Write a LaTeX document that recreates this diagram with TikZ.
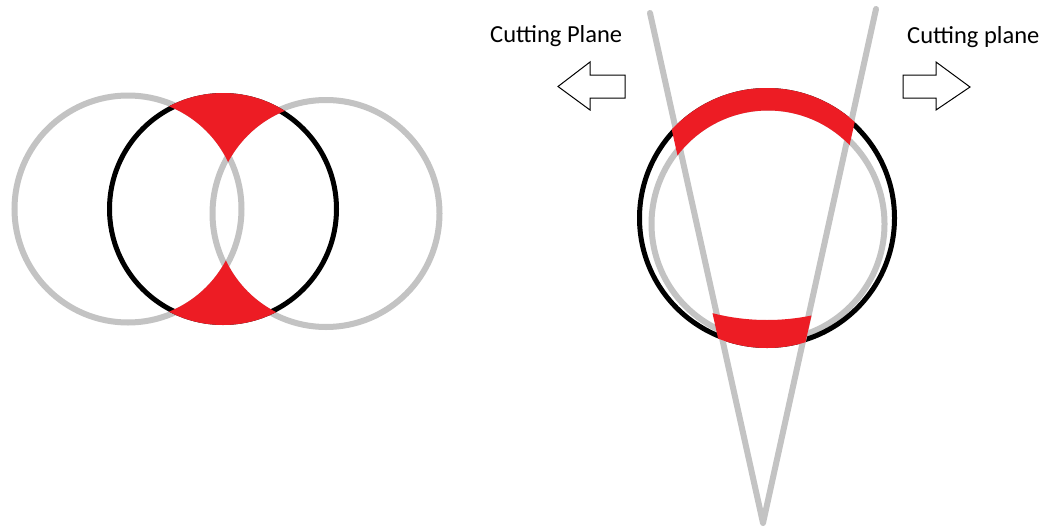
\documentclass[tikz,border=0pt]{standalone}
\usepackage{fontspec}
\setmainfont{Carlito}
\definecolor{cgrey}{HTML}{C3C3C3}
\definecolor{cred}{HTML}{ED1C24}
\begin{document}
\begin{tikzpicture}[x=1pt,y=-1pt,
  greyline/.style={draw=cgrey,line width=6pt},
  blackline/.style={draw=black,line width=5pt},
  hollowarrow/.style={draw=black,fill=white,line width=1pt,line join=miter},
  cutlabel/.style={inner sep=0pt,anchor=base west,text=black,font=\fontsize{24.5}{28}\selectfont}]
\useasboundingbox (0,0) rectangle (1056,530);
\fill[white] (0,0) rectangle (1056,530);

% ---------- left figure ----------
\coordinate (gl) at (128,209);
\coordinate (gr) at (326,213.5);
\coordinate (bc) at (223,209);
\draw[greyline] (gl) circle[radius=113.5];
\draw[greyline] (gr) circle[radius=113.5];
\draw[blackline] (bc) circle[radius=113.5];
\begin{scope}
  \clip (0,0) -- (0,530) -- (1056,530) -- (1056,0) -- cycle (gl) circle[radius=110.5];
  \clip (0,0) -- (0,530) -- (1056,530) -- (1056,0) -- cycle (gr) circle[radius=110.5];
  \fill[cred] (bc) circle[radius=116];
\end{scope}

% ---------- right figure ----------
\coordinate (bk) at (767,218);
\coordinate (gk) at (768,224);
\coordinate (vl) at (650,13);
\coordinate (vr) at (876,9);
\coordinate (vt) at (763,523);
\draw[greyline] (gk) circle[radius=116.5];
\draw[blackline] (bk) circle[radius=127.5];
\draw[greyline,line cap=round,line join=round] (vl) -- (vt) -- (vr);
% top red band
\begin{scope}
  \clip (643,0) -- (882,0) -- (763.5,530) -- (760.6,530) -- cycle;
  \clip (0,0) rectangle (1056,200);
  \clip (0,0) -- (0,530) -- (1056,530) -- (1056,0) -- cycle (gk) circle[radius=113.5];
  \fill[cred] (bk) circle[radius=130];
\end{scope}
% bottom red band
\begin{scope}
  \clip (643,0) -- (882,0) -- (763.5,530) -- (760.6,530) -- cycle;
  \clip (0,250) rectangle (1056,530);
  \clip (0,0) -- (0,530) -- (1056,530) -- (1056,0) -- cycle (767,100) circle[radius=220];
  \fill[cred] (bk) circle[radius=130];
\end{scope}

% ---------- arrows and labels ----------
\draw[hollowarrow] (625,75) -- (590,75) -- (590,62) -- (558,86.5) -- (590,110) -- (590,98) -- (625,98) -- cycle;
\draw[hollowarrow] (903,75) -- (936,75) -- (936,62) -- (970,87) -- (936,110) -- (936,98) -- (903,98) -- cycle;
\node[cutlabel] (tleft) at (490,42) {Cutting Plane};
\node[cutlabel] (tright) at (907,43) {Cutting plane};
\end{tikzpicture}
\end{document}
